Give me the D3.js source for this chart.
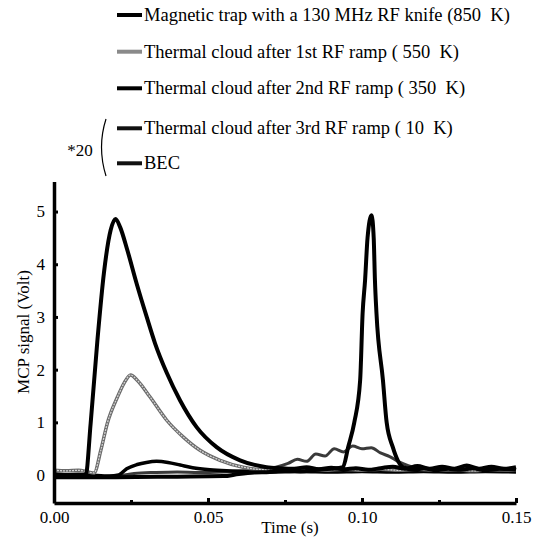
<!DOCTYPE html>
<html>
<head>
<meta charset="utf-8">
<script src="https://cdn.jsdelivr.net/npm/d3@7"></script>
<style>
body { margin: 0; background: #fff; }
</style>
</head>
<body>
<div id="chart"></div>
<script>
// series: [time (s), MCP signal (V)]
var trap850 = [
  [0, 0.02], [0.004, 0.0], [0.008, 0.01], [0.0103, 0.0], [0.0119, 0.98], [0.0141, 2.56],
  [0.0162, 3.83], [0.0184, 4.65], [0.020, 4.86], [0.0215, 4.7], [0.0238, 4.27], [0.0268, 3.64],
  [0.0301, 3.0], [0.0328, 2.5], [0.0366, 1.94], [0.0409, 1.42], [0.0463, 0.91], [0.0528, 0.53],
  [0.0604, 0.28], [0.069, 0.15], [0.0734, 0.13], [0.078, 0.12], [0.082, 0.15], [0.086, 0.11],
  [0.09, 0.14], [0.094, 0.11], [0.098, 0.13], [0.102, 0.1], [0.106, 0.13], [0.11, 0.16],
  [0.114, 0.12], [0.118, 0.17], [0.122, 0.12], [0.126, 0.16], [0.13, 0.12], [0.134, 0.18],
  [0.138, 0.12], [0.142, 0.16], [0.146, 0.12], [0.15, 0.15]
];
var ramp1 = [
  [0, 0.09], [0.004, 0.08], [0.008, 0.09], [0.011, 0.06], [0.013, 0.04], [0.0152, 0.47],
  [0.0173, 0.98], [0.0206, 1.48], [0.0228, 1.75], [0.0249, 1.9], [0.027, 1.8], [0.0312, 1.48],
  [0.0366, 1.04], [0.042, 0.72], [0.0474, 0.47], [0.0539, 0.28], [0.0614, 0.15], [0.069, 0.1],
  [0.074, 0.13], [0.078, 0.1], [0.083, 0.12], [0.088, 0.09], [0.094, 0.11], [0.1, 0.09],
  [0.106, 0.11], [0.112, 0.09], [0.118, 0.11], [0.124, 0.09], [0.13, 0.1], [0.136, 0.08],
  [0.142, 0.1], [0.15, 0.09]
];
var ramp2 = [
  [0, 0.0], [0.01, 0.0], [0.018, -0.02], [0.021, 0.0], [0.0236, 0.12], [0.027, 0.2],
  [0.030, 0.24], [0.0333, 0.26], [0.037, 0.24], [0.041, 0.19], [0.045, 0.14], [0.0506, 0.1],
  [0.056, 0.08], [0.062, 0.07], [0.07, 0.06], [0.08, 0.07], [0.09, 0.06], [0.1, 0.07],
  [0.11, 0.06], [0.12, 0.07], [0.13, 0.06], [0.14, 0.07], [0.15, 0.06]
];
var ramp3 = [
  [0, -0.03], [0.01, -0.03], [0.02, -0.02], [0.026, 0.03], [0.033, 0.05], [0.04, 0.06],
  [0.047, 0.05], [0.055, 0.06], [0.062, 0.08], [0.068, 0.12], [0.072, 0.15], [0.076, 0.22],
  [0.079, 0.3], [0.082, 0.26], [0.085, 0.4], [0.088, 0.36], [0.091, 0.5], [0.094, 0.44],
  [0.097, 0.55], [0.1, 0.5], [0.103, 0.52], [0.106, 0.42], [0.109, 0.35], [0.112, 0.25],
  [0.115, 0.18], [0.118, 0.13], [0.122, 0.1], [0.126, 0.12], [0.13, 0.09], [0.135, 0.11],
  [0.14, 0.09], [0.145, 0.1], [0.15, 0.1]
];
var bec = [
  [0, -0.04], [0.02, -0.04], [0.04, -0.03], [0.055, -0.02], [0.06, 0.02], [0.065, 0.05],
  [0.07, 0.06], [0.075, 0.09], [0.08, 0.07], [0.085, 0.1], [0.09, 0.12], [0.0938, 0.15],
  [0.0955, 0.53], [0.0975, 1.0], [0.0994, 1.8], [0.1002, 3.07], [0.101, 3.7], [0.1018, 4.5],
  [0.1031, 4.93], [0.1038, 4.5], [0.1042, 3.7], [0.1047, 3.07], [0.1068, 1.8], [0.108, 1.0],
  [0.110, 0.53], [0.1133, 0.15], [0.117, 0.1], [0.12, 0.13], [0.124, 0.09], [0.128, 0.12],
  [0.132, 0.1], [0.136, 0.13], [0.14, 0.09], [0.145, 0.12], [0.15, 0.1]
];

var legendLabels = [
  "Magnetic trap with a 130 MHz RF knife (850  K)",
  "Thermal cloud after 1st RF ramp ( 550  K)",
  "Thermal cloud after 2nd RF ramp ( 350  K)",
  "Thermal cloud after 3rd RF ramp ( 10  K)",
  "BEC"
];
var yTicks = [0, 1, 2, 3, 4, 5];
var xTicks = [0, 0.05, 0.10, 0.15];
var xMinor = [0.025, 0.075, 0.125];

var width = 534, height = 547;
var serif = "'Liberation Serif'";

var svg = d3.select("#chart")
  .append("svg")
  .attr("width", width)
  .attr("height", height)
  .style("display", "block");

var x = d3.scaleLinear().domain([0, 0.15]).range([54, 516]);
var y = d3.scaleLinear().domain([-0.53, 5.57]).range([503, 181.5]);

var line = d3.line()
  .x(function(d) { return x(d[0]); })
  .y(function(d) { return y(d[1]); })
  .curve(d3.curveMonotoneX);

// curves (back to front)
var series = [
  {data: ramp3, color: "#3a3a3a", w: 3},
  {data: ramp2, color: "#000", w: 3.5},
  {data: ramp1, color: "#6a6a6a", w: 3.5, inner: "#d4d4d4"},
  {data: bec, color: "#000", w: 4},
  {data: trap850, color: "#000", w: 4}
];
series.forEach(function(s) {
  svg.append("path")
    .datum(s.data)
    .attr("d", line)
    .attr("fill", "none")
    .attr("stroke", s.color)
    .attr("stroke-width", s.w)
    .attr("stroke-linejoin", "round");
  if (s.inner) {
    svg.append("path")
      .datum(s.data)
      .attr("d", line)
      .attr("fill", "none")
      .attr("stroke", s.inner)
      .attr("stroke-width", 1.3)
      .attr("stroke-dasharray", "2,1");
  }
});

// axes
svg.append("g")
  .attr("transform", "translate(" + x(0) + ",0)")
  .call(d3.axisLeft(y).tickValues(yTicks).tickSizeInner(-4).tickSizeOuter(0).tickPadding(9)
    .tickFormat(d3.format("d")));
svg.append("g")
  .attr("transform", "translate(0," + y(-0.53) + ")")
  .call(d3.axisBottom(x).tickValues(xTicks).tickSizeInner(-5).tickSizeOuter(0).tickPadding(8)
    .tickFormat(d3.format(".2f")));
svg.append("g")
  .attr("transform", "translate(0," + y(-0.53) + ")")
  .call(d3.axisBottom(x).tickValues(xMinor).tickSize(-3).tickFormat(""))
  .select(".domain").remove();

svg.selectAll(".domain").attr("stroke", "#000").attr("stroke-width", 3.5);
svg.selectAll(".tick line").attr("stroke", "#000").attr("stroke-width", 3);
svg.selectAll(".tick text")
  .style("font-family", serif)
  .style("font-size", "17px")
  .attr("fill", "#000");

svg.append("text")
  .attr("transform", "translate(23," + 332 + ") rotate(-90)")
  .attr("text-anchor", "middle")
  .attr("dy", "0.35em")
  .style("font-family", serif)
  .style("font-size", "17px")
  .text("MCP signal (Volt)");

svg.append("text")
  .attr("x", 290)
  .attr("y", 533)
  .attr("text-anchor", "middle")
  .style("font-family", serif)
  .style("font-size", "17px")
  .text("Time (s)");

// legend
var legendY = [15, 51.7, 88.3, 128.3, 163.3];
var legendColor = ["#000", "#8a8a8a", "#000", "#111", "#111"];
var lg = svg.append("g");
legendLabels.forEach(function(lbl, i) {
  lg.append("line")
    .attr("x1", 117).attr("x2", 142)
    .attr("y1", legendY[i]).attr("y2", legendY[i])
    .attr("stroke", legendColor[i])
    .attr("stroke-width", 4);
  lg.append("text")
    .attr("x", 144)
    .attr("y", legendY[i])
    .attr("dy", "0.33em")
    .style("font-family", serif)
    .style("font-size", "18.5px")
    .style("white-space", "pre")
    .text(lbl);
});
lg.append("path")
  .attr("d", "M106,119 Q97,147 106,176")
  .attr("fill", "none")
  .attr("stroke", "#000")
  .attr("stroke-width", 1.2);
lg.append("text")
  .attr("x", 80)
  .attr("y", 150)
  .attr("dy", "0.35em")
  .attr("text-anchor", "middle")
  .style("font-family", serif)
  .style("font-size", "17px")
  .text("*20");
</script>
</body>
</html>
